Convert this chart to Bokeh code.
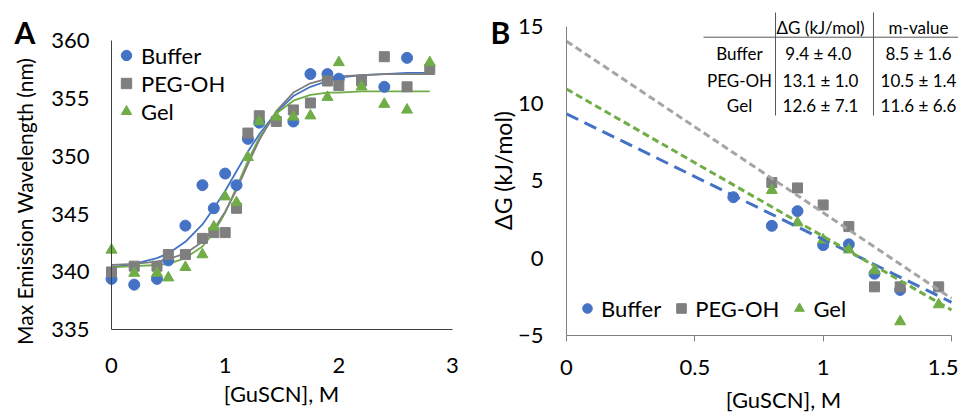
import math
from bokeh.plotting import figure
from bokeh.layouts import row
from bokeh.models import Legend, LegendItem, FixedTicker, Label
from bokeh.embed import file_html
from bokeh.resources import INLINE

FONT = "Lato"
BLUE = "#4472C4"
GREY = "#7F7F7F"
GREEN = "#70AD47"
LGREY = "#A5A5A5"

# ---------------- Panel A data ----------------
conc = [0, 0.2, 0.4, 0.5, 0.65, 0.8, 0.9, 1.0, 1.1, 1.2, 1.3, 1.45, 1.6, 1.75, 1.9, 2.0, 2.2, 2.4, 2.6, 2.8]
buffer_x = [0, 0.2, 0.4, 0.5, 0.65, 0.8, 0.9, 1.0, 1.1, 1.2, 1.3, 1.6, 1.75, 1.9, 2.0, 2.4, 2.6]
buffer_wl = [339.4, 338.9, 339.4, 341.0, 344.0, 347.5, 345.5, 348.5, 347.5, 351.5, 352.9, 353.0, 357.1, 357.1, 356.7, 356.0, 358.5]
peg_wl = [340.0, 340.5, 340.5, 341.5, 341.5, 342.9, 343.4, 343.4, 345.5, 352.0, 353.5, 353.0, 354.0, 354.6, 356.5, 356.1, 356.5, 358.6, 356.0, 357.5]
gel_wl = [341.9, 339.9, 339.9, 339.5, 340.4, 341.5, 343.9, 346.5, 346.0, 349.9, 353.0, 353.4, 353.4, 353.5, 355.1, 358.1, 356.0, 354.5, 354.0, 358.1]
buffer_fit = [340.4, 340.7, 341.2, 341.6, 342.6, 344.1, 345.5, 347.0, 348.7, 350.4, 351.9, 353.8, 355.2, 356.0, 356.5, 356.8, 357.0, 357.1, 357.2, 357.2]
peg_fit = [340.6, 340.7, 340.9, 341.1, 341.6, 342.6, 343.7, 345.2, 347.1, 349.3, 351.4, 353.9, 355.5, 356.3, 356.7, 356.9, 357.0, 357.1, 357.1, 357.1]
gel_fit = [340.4, 340.5, 340.6, 340.7, 341.2, 342.2, 343.4, 345.1, 347.3, 349.6, 351.6, 353.7, 354.8, 355.3, 355.5, 355.5, 355.6, 355.6, 355.6, 355.6]
a_xticks = [0, 1, 2, 3]
a_yticks = [335, 340, 345, 350, 355, 360]

# ---------------- Panel B data ----------------
b_buffer_x = [0.65, 0.8, 0.9, 1.0, 1.1, 1.2, 1.3]
b_buffer_dg = [3.95, 2.1, 3.05, 0.85, 0.9, -1.0, -2.05]
b_peg_x = [0.8, 0.9, 1.0, 1.1, 1.2, 1.3, 1.45]
b_peg_dg = [4.9, 4.55, 3.45, 2.05, -1.85, -1.85, -1.85]
b_gel_x = [0.8, 0.9, 1.0, 1.1, 1.2, 1.3, 1.45]
b_gel_dg = [4.4, 2.3, 1.2, 0.55, -0.8, -4.1, -3.0]
trend_x = [0, 1.5]
trend_buffer = [9.35, -2.85]
trend_peg = [14.05, -2.6]
trend_gel = [10.95, -3.35]
b_xticks = [0, 0.5, 1, 1.5]
b_xlabels = ["0", "0.5", "1", "1.5"]
b_yticks = [-5, 0, 5, 10, 15]
b_ylabels = ["\u22125", "0", "5", "10", "15"]

table_header = ["\u0394G (kJ/mol)", "m-value"]
table_rows = ["Buffer", "PEG-OH", "Gel"]
table_dg = ["9.4  \u00b1 4.0", "13.1 \u00b1 1.0", "12.6 \u00b1 7.1"]
table_m = ["8.5 \u00b1 1.6", "10.5 \u00b1 1.4", "11.6 \u00b1 6.6"]


def style_axis(ax, color, tick_out, label_standoff):
    ax.axis_line_color = color
    ax.axis_line_width = 1
    ax.major_tick_line_color = color
    ax.major_tick_out = tick_out
    ax.major_tick_in = 0
    ax.minor_tick_line_color = None
    ax.major_label_text_font = FONT
    ax.major_label_text_font_size = "22px"
    ax.major_label_text_color = "black"
    ax.major_label_standoff = label_standoff


def dlabel(p, x, y, text, size="22px", angle=0.0, align="center", baseline="middle", style="normal"):
    p.add_layout(Label(x=x, y=y, text=text, angle=angle,
                       text_font=FONT, text_font_size=size, text_font_style=style,
                       text_align=align, text_baseline=baseline, text_color="black"))


H = 412
# ================= Panel A =================
# frame fills the whole canvas; axes are pinned at x=0 / y=335 inside it
pA = figure(width=480, height=H, x_range=(-0.9765, 3.2463), y_range=(327.853, 363.457),
            output_backend="svg", toolbar_location=None, title=None, min_border=0)
pA.grid.visible = False
pA.outline_line_color = None

pA.xaxis.ticker = FixedTicker(ticks=a_xticks)
pA.yaxis.ticker = FixedTicker(ticks=a_yticks)
pA.xaxis.fixed_location = 335
pA.yaxis.fixed_location = 0
pA.xaxis.bounds = (0, 3)
pA.yaxis.bounds = (335, 360)
style_axis(pA.xaxis[0], "#404040", 0, 28)
style_axis(pA.yaxis[0], "#404040", 0, 22)

pA.line(conc, buffer_fit, line_color=BLUE, line_width=1.8)
pA.line(conc, gel_fit, line_color=GREEN, line_width=1.8)
pA.line(conc, peg_fit, line_color=GREY, line_width=1.8)

ra_b = pA.scatter(buffer_x, buffer_wl, marker="circle", size=11, fill_color=BLUE, line_color=BLUE)
ra_p = pA.scatter(conc, peg_wl, marker="square", size=10, fill_color=GREY, line_color=GREY)
ra_g = pA.scatter(conc, gel_wl, marker="triangle", size=11, fill_color=GREEN, line_color=GREEN)

legA = Legend(items=[LegendItem(label="Buffer", renderers=[ra_b]),
                     LegendItem(label="PEG-OH", renderers=[ra_p]),
                     LegendItem(label="Gel", renderers=[ra_g])],
              location=(113, 287), orientation="vertical",
              glyph_width=26, glyph_height=28, label_height=28, label_standoff=2,
              spacing=0, padding=0, margin=0,
              background_fill_alpha=0, border_line_color=None,
              label_text_font=FONT, label_text_font_size="22px", label_text_color="black")
pA.add_layout(legA)

dlabel(pA, -0.8534, 360.70, "A", size="30px", align="left", baseline="alphabetic", style="bold")
dlabel(pA, -0.7654, 346.10, "Max Emission Wavelength (nm)", size="21px", angle=math.pi / 2)
dlabel(pA, 1.4956, 329.495, "[GuSCN], M")

# ================= Panel B =================
pB = figure(width=478, height=H, x_range=(-0.33507, 1.52727), y_range=(-9.9838, 16.6828),
            output_backend="svg", toolbar_location=None, title=None, min_border=0)
pB.grid.visible = False
pB.outline_line_color = None

pB.xaxis.ticker = FixedTicker(ticks=b_xticks)
pB.yaxis.ticker = FixedTicker(ticks=b_yticks)
pB.xaxis.major_label_overrides = dict(zip(b_xticks, b_xlabels))
pB.yaxis.major_label_overrides = dict(zip(b_yticks, b_ylabels))
pB.xaxis.fixed_location = -5
pB.yaxis.fixed_location = 0
pB.xaxis.bounds = (0, 1.5)
pB.yaxis.bounds = (-5, 15)
style_axis(pB.xaxis[0], "#808080", 6, 18)
style_axis(pB.yaxis[0], "#808080", 0, 23)

rb_b = pB.scatter(b_buffer_x, b_buffer_dg, marker="circle", size=11, fill_color=BLUE, line_color=BLUE)
rb_p = pB.scatter(b_peg_x, b_peg_dg, marker="square", size=10, fill_color=GREY, line_color=GREY)
rb_g = pB.scatter(b_gel_x, b_gel_dg, marker="triangle", size=11, fill_color=GREEN, line_color=GREEN)

pB.line(trend_x, trend_buffer, line_color=BLUE, line_width=3, line_dash="13 7")
pB.line(trend_x, trend_peg, line_color=LGREY, line_width=3, line_dash="7 4")
pB.line(trend_x, trend_gel, line_color=GREEN, line_width=3, line_dash="7 4")

legB = Legend(items=[LegendItem(label="Buffer", renderers=[rb_b]),
                     LegendItem(label="PEG-OH", renderers=[rb_p]),
                     LegendItem(label="Gel", renderers=[rb_g])],
              location=(95, 90), orientation="horizontal",
              glyph_width=24, glyph_height=28, label_height=28, label_standoff=2,
              spacing=8, padding=0, margin=0,
              background_fill_alpha=0, border_line_color=None,
              label_text_font=FONT, label_text_font_size="22px", label_text_color="black")
pB.add_layout(legB)

dlabel(pB, -0.2961, 14.62, "B", size="30px", align="left", baseline="alphabetic", style="bold")
dlabel(pB, -0.2455, 5.68, "\u0394G (kJ/mol)", size="23px", angle=math.pi / 2)
dlabel(pB, 0.8455, -9.142, "[GuSCN], M")

# table (text + rules) in panel B
TF = "17px"
col_x = [0.674, 0.9896, 1.3714]
row_y = [14.916, 13.233, 11.505, 9.887]
for txt, cx in zip(table_header, col_x[1:]):
    dlabel(pB, cx, row_y[0], txt, size=TF)
for i in range(3):
    for txt, cx in zip([table_rows[i], table_dg[i], table_m[i]], col_x):
        dlabel(pB, cx, row_y[i + 1], txt, size=TF)
pB.segment(x0=[0.5338, 0.8143, 1.1961], y0=[14.307, 15.906, 15.906],
           x1=[1.53, 0.8143, 1.1961], y1=[14.307, 9.239, 9.239],
           line_color="#595959", line_width=1)

layout = row(pA, pB)
open("out.html", "w").write(file_html(layout, INLINE))
